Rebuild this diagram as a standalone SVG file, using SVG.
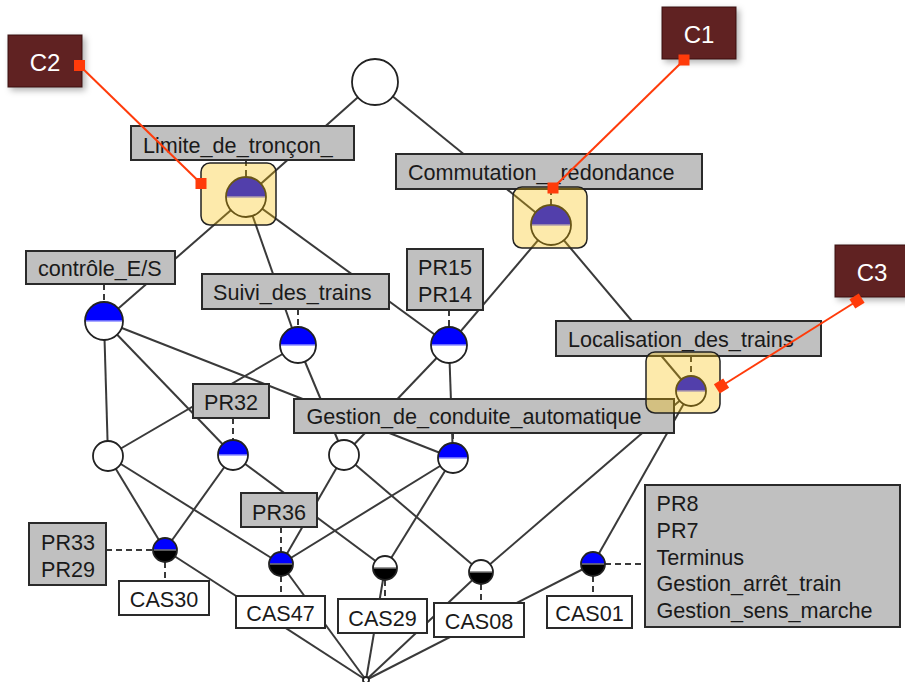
<svg xmlns="http://www.w3.org/2000/svg" width="905" height="682" viewBox="0 0 905 682">
<defs>
<style>
.e{stroke:#3a3a3a;stroke-width:2;fill:none}
.d{stroke:#3a3a3a;stroke-width:2;stroke-dasharray:6 4;fill:none}
.lb{fill:#c0c0c0;stroke:#2a2a2a;stroke-width:2}
.lw{fill:#fff;stroke:#2a2a2a;stroke-width:2}
.t{font-family:"Liberation Sans",Arial,sans-serif;font-size:21.6px;fill:#1a1a1a}
.m{text-anchor:middle}
.w{fill:#fff}
.o{fill:none;stroke:#222;stroke-width:1.8}
.bl{fill:#0000ff}
.bk{fill:#000}
.dv{stroke:#8c8cff;stroke-width:1.5}
.dg{stroke:#777;stroke-width:1.5}
.hl{fill:#f9c000;fill-opacity:.33;stroke:#222;stroke-width:1.5}
.cb{fill:#612221;stroke:#3a1010;stroke-width:1}
.ct{font-family:"Liberation Sans",Arial,sans-serif;font-size:24px;fill:#fff;text-anchor:middle}
.rl{stroke:#ff3b0a;stroke-width:2}
.rs{fill:#ff3b0a}
</style>
<filter id="sh" x="-30%" y="-30%" width="160%" height="160%">
<feDropShadow dx="3" dy="3" stdDeviation="3" flood-color="#000" flood-opacity="0.3"/>
</filter>
</defs>
<rect width="905" height="682" fill="#fff"/>

<g id="edges">
<line class="e" x1="375" y1="82" x2="246" y2="197"/>
<line class="e" x1="375" y1="82" x2="551" y2="225"/>
<line class="e" x1="246" y1="197" x2="104" y2="321"/>
<line class="e" x1="246" y1="197" x2="298" y2="345"/>
<line class="e" x1="246" y1="197" x2="449" y2="345"/>
<line class="e" x1="551" y1="225" x2="449" y2="345"/>
<line class="e" x1="551" y1="225" x2="691" y2="391"/>
<line class="e" x1="104" y1="321" x2="108" y2="456"/>
<line class="e" x1="104" y1="321" x2="233" y2="455"/>
<line class="e" x1="104" y1="321" x2="453" y2="458"/>
<line class="e" x1="298" y1="345" x2="108" y2="456"/>
<line class="e" x1="298" y1="345" x2="344" y2="455"/>
<line class="e" x1="449" y1="345" x2="344" y2="455"/>
<line class="e" x1="449" y1="345" x2="453" y2="458"/>
<line class="e" x1="108" y1="456" x2="165" y2="550"/>
<line class="e" x1="108" y1="456" x2="281" y2="564"/>
<line class="e" x1="233" y1="455" x2="165" y2="550"/>
<line class="e" x1="233" y1="455" x2="385" y2="568"/>
<line class="e" x1="344" y1="455" x2="281" y2="564"/>
<line class="e" x1="344" y1="455" x2="481" y2="572"/>
<line class="e" x1="453" y1="458" x2="281" y2="564"/>
<line class="e" x1="453" y1="458" x2="385" y2="568"/>
<line class="e" x1="691" y1="391" x2="481" y2="572"/>
<line class="e" x1="691" y1="391" x2="593" y2="564"/>
<line class="e" x1="165" y1="550" x2="366" y2="680"/>
<line class="e" x1="281" y1="564" x2="366" y2="680"/>
<line class="e" x1="385" y1="568" x2="366" y2="680"/>
<line class="e" x1="481" y1="572" x2="366" y2="680"/>
<line class="e" x1="593" y1="564" x2="366" y2="680"/>
<line class="d" x1="246" y1="160" x2="246" y2="177"/>
<line class="d" x1="551" y1="189" x2="551" y2="205"/>
<line class="d" x1="104" y1="284" x2="104" y2="302"/>
<line class="d" x1="298" y1="309" x2="298" y2="327"/>
<line class="d" x1="449" y1="310" x2="449" y2="327"/>
<line class="d" x1="691" y1="356" x2="691" y2="376"/>
<line class="d" x1="233" y1="418" x2="233" y2="440"/>
<line class="d" x1="453" y1="433" x2="453" y2="443"/>
<line class="d" x1="281" y1="527" x2="281" y2="552"/>
<line class="d" x1="106" y1="550" x2="153" y2="550"/>
<line class="d" x1="165" y1="562" x2="165" y2="581"/>
<line class="d" x1="281" y1="576" x2="281" y2="596"/>
<line class="d" x1="385" y1="580" x2="385" y2="599"/>
<line class="d" x1="481" y1="584" x2="481" y2="603"/>
<line class="d" x1="593" y1="576" x2="593" y2="596"/>
<line class="d" x1="605" y1="564" x2="645" y2="564"/>
</g>

<g id="n-top">
<circle class="w" cx="375" cy="82" r="23"/><circle class="o" cx="375" cy="82" r="23"/>
</g>

<g id="n-limite">
<rect class="lb" x="131" y="126" width="223" height="34"/>
<text class="t" x="143" y="152.5">Limite_de_tronçon_</text>
<circle class="w" cx="246" cy="197" r="20"/><path class="bl" d="M226 197A20 20 0 0 1 266 197Z"/><line class="dv" x1="226" y1="197" x2="266" y2="197"/><circle class="o" cx="246" cy="197" r="20"/>
</g>

<g id="n-commutation">
<rect class="lb" x="396" y="154" width="306" height="35"/>
<text class="t" x="408" y="180">Commutation__redondance</text>
<circle class="w" cx="551" cy="225" r="20"/><path class="bl" d="M531 225A20 20 0 0 1 571 225Z"/><line class="dv" x1="531" y1="225" x2="571" y2="225"/><circle class="o" cx="551" cy="225" r="20"/>
</g>

<g id="n-controle">
<rect class="lb" x="26" y="251" width="149" height="33"/>
<text class="t" x="38" y="276">contrôle_E/S</text>
<circle class="w" cx="104" cy="321" r="19"/><path class="bl" d="M85 321A19 19 0 0 1 123 321Z"/><line class="dv" x1="85" y1="321" x2="123" y2="321"/><circle class="o" cx="104" cy="321" r="19"/>
</g>

<g id="n-suivi">
<rect class="lb" x="202" y="274" width="187" height="35"/>
<text class="t" x="213" y="300">Suivi_des_trains</text>
<circle class="w" cx="298" cy="345" r="18"/><path class="bl" d="M280 345A18 18 0 0 1 316 345Z"/><line class="dv" x1="280" y1="345" x2="316" y2="345"/><circle class="o" cx="298" cy="345" r="18"/>
</g>

<g id="n-pr15">
<rect class="lb" x="407" y="249" width="76" height="61"/>
<text class="t m" x="445" y="275">PR15</text>
<text class="t m" x="445" y="301.5">PR14</text>
<circle class="w" cx="449" cy="345" r="18"/><path class="bl" d="M431 345A18 18 0 0 1 467 345Z"/><line class="dv" x1="431" y1="345" x2="467" y2="345"/><circle class="o" cx="449" cy="345" r="18"/>
</g>

<g id="n-localisation">
<rect class="lb" x="556" y="321" width="265" height="35"/>
<text class="t" x="568" y="347">Localisation_des_trains</text>
<circle class="w" cx="691" cy="391" r="15"/><path class="bl" d="M676 391A15 15 0 0 1 706 391Z"/><line class="dv" x1="676" y1="391" x2="706" y2="391"/><circle class="o" cx="691" cy="391" r="15"/>
</g>

<g id="n-w1">
<circle class="w" cx="108" cy="456" r="15"/><circle class="o" cx="108" cy="456" r="15"/>
</g>

<g id="n-pr32">
<rect class="lb" x="193" y="384" width="76" height="34"/>
<text class="t m" x="231" y="410">PR32</text>
<circle class="w" cx="233" cy="455" r="15"/><path class="bl" d="M218 455A15 15 0 0 1 248 455Z"/><line class="dv" x1="218" y1="455" x2="248" y2="455"/><circle class="o" cx="233" cy="455" r="15"/>
</g>

<g id="n-w2">
<circle class="w" cx="344" cy="455" r="15"/><circle class="o" cx="344" cy="455" r="15"/>
</g>

<g id="n-gestion">
<rect class="lb" x="294" y="399" width="380" height="34"/>
<text class="t" x="306.5" y="424">Gestion_de_conduite_automatique</text>
<circle class="w" cx="453" cy="458" r="15"/><path class="bl" d="M438 458A15 15 0 0 1 468 458Z"/><line class="dv" x1="438" y1="458" x2="468" y2="458"/><circle class="o" cx="453" cy="458" r="15"/>
</g>

<g id="n-cas30">
<rect class="lb" x="29" y="523" width="77" height="62"/>
<text class="t m" x="68" y="550">PR33</text>
<text class="t m" x="68" y="576.5">PR29</text>
<rect class="lw" x="119" y="581" width="90" height="34"/>
<text class="t m" x="164" y="606.5">CAS30</text>
<path class="bk" d="M153 550A12 12 0 0 0 177 550Z"/><path class="bl" d="M153 550A12 12 0 0 1 177 550Z"/><line class="dg" x1="153" y1="550" x2="177" y2="550"/><circle class="o" cx="165" cy="550" r="12"/>
</g>

<g id="n-cas47">
<rect class="lb" x="241" y="493" width="76" height="34"/>
<text class="t m" x="279" y="520">PR36</text>
<rect class="lw" x="236" y="596" width="89" height="32"/>
<text class="t m" x="280.5" y="620.5">CAS47</text>
<path class="bk" d="M269 564A12 12 0 0 0 293 564Z"/><path class="bl" d="M269 564A12 12 0 0 1 293 564Z"/><line class="dg" x1="269" y1="564" x2="293" y2="564"/><circle class="o" cx="281" cy="564" r="12"/>
</g>

<g id="n-cas29">
<rect class="lw" x="338" y="599" width="89" height="34"/>
<text class="t m" x="382.5" y="626">CAS29</text>
<path class="w" d="M373 568A12 12 0 0 1 397 568Z"/><path class="bk" d="M373 568A12 12 0 0 0 397 568Z"/><line class="dg" x1="373" y1="568" x2="397" y2="568"/><circle class="o" cx="385" cy="568" r="12"/>
</g>

<g id="n-cas08">
<rect class="lw" x="434" y="603" width="90" height="34"/>
<text class="t m" x="479" y="628.5">CAS08</text>
<path class="w" d="M469 572A12 12 0 0 1 493 572Z"/><path class="bk" d="M469 572A12 12 0 0 0 493 572Z"/><line class="dg" x1="469" y1="572" x2="493" y2="572"/><circle class="o" cx="481" cy="572" r="12"/>
</g>

<g id="n-cas01">
<rect class="lb" x="645" y="485" width="255" height="142"/>
<text class="t" x="656.5" y="511">PR8</text>
<text class="t" x="656.5" y="538">PR7</text>
<text class="t" x="656.5" y="564.5">Terminus</text>
<text class="t" x="656.5" y="591">Gestion_arrêt_train</text>
<text class="t" x="656.5" y="618">Gestion_sens_marche</text>
<rect class="lw" x="547" y="596" width="85" height="32"/>
<text class="t m" x="589.5" y="621">CAS01</text>
<path class="bk" d="M581 564A12 12 0 0 0 605 564Z"/><path class="bl" d="M581 564A12 12 0 0 1 605 564Z"/><line class="dg" x1="581" y1="564" x2="605" y2="564"/><circle class="o" cx="593" cy="564" r="12"/>
</g>

<g id="n-bottom">
<circle class="w" cx="366" cy="680" r="3"/><circle class="o" cx="366" cy="680" r="3" stroke-width="1.2"/>
</g>

<g id="highlights">
<rect class="hl" x="201" y="163" width="75" height="62" rx="9"/>
<rect class="hl" x="513" y="187" width="74" height="61" rx="9"/>
<rect class="hl" x="646" y="352" width="74" height="61" rx="9"/>
</g>

<g id="callout-c2">
<rect class="cb" x="8" y="35" width="74" height="52" filter="url(#sh)"/>
<text class="ct" x="45" y="71">C2</text>
<line class="rl" x1="79.5" y1="65.5" x2="201" y2="183.5"/>
<rect class="rs" x="74" y="60" width="11" height="11"/>
<rect class="rs" x="195.5" y="178" width="11" height="11"/>
</g>

<g id="callout-c1">
<rect class="cb" x="662" y="7" width="74" height="52" filter="url(#sh)"/>
<text class="ct" x="699" y="43">C1</text>
<line class="rl" x1="684" y1="60" x2="553" y2="188"/>
<rect class="rs" x="678.5" y="54.5" width="11" height="11"/>
<rect class="rs" x="547.5" y="182.5" width="11" height="11"/>
</g>

<g id="callout-c3">
<rect class="cb" x="835" y="245" width="74" height="52" filter="url(#sh)"/>
<text class="ct" x="872" y="281">C3</text>
<line class="rl" x1="857" y1="301" x2="721.5" y2="386"/>
<rect class="rs" x="-5.5" y="-5.5" width="11" height="11" transform="translate(857 301) rotate(-32)"/>
<rect class="rs" x="-5.5" y="-5.5" width="11" height="11" transform="translate(721.5 386) rotate(-32)"/>
</g>
</svg>
